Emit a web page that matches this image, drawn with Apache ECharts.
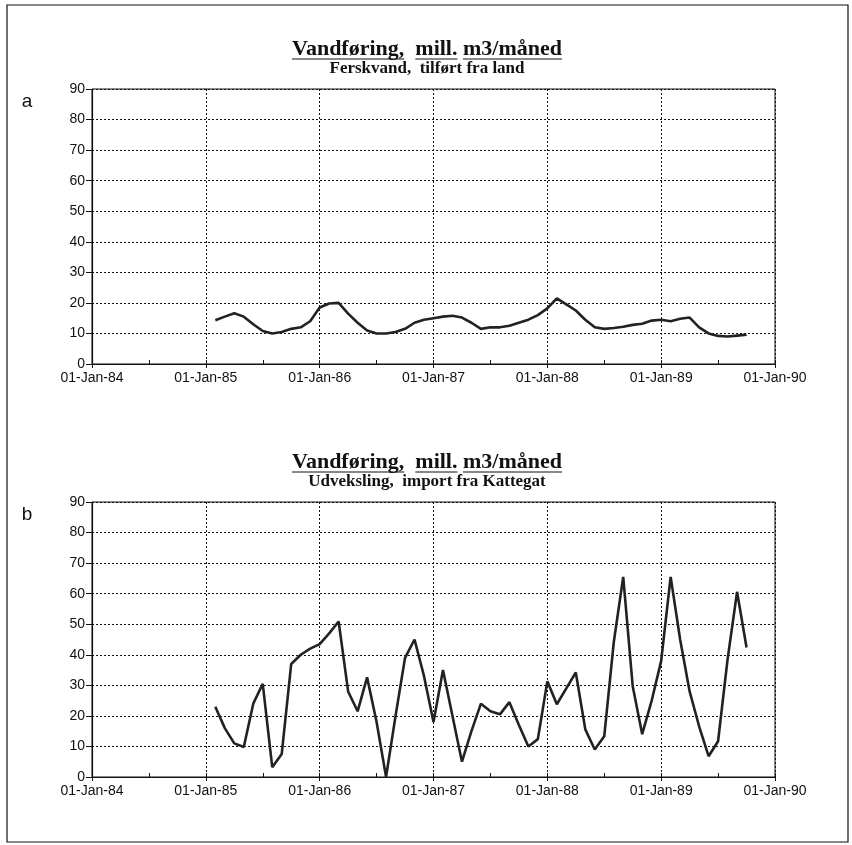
<!DOCTYPE html>
<html>
<head>
<meta charset="utf-8">
<script src="https://cdn.jsdelivr.net/npm/echarts@6/dist/echarts.min.js"></script>
<style>
  html, body { margin: 0; padding: 0; background: #ffffff; }
  #chart { width: 852px; height: 845px; }
</style>
</head>
<body>
<div id="chart"></div>
<script>
// tick labels of the time axis, one per year (months counted from 01-Jan-84)
var tickLabels = ['01-Jan-84', '01-Jan-85', '01-Jan-86', '01-Jan-87', '01-Jan-88', '01-Jan-89', '01-Jan-90'];
var yTicks = [0, 10, 20, 30, 40, 50, 60, 70, 80, 90];

// first observation is Feb-85, then one value per month up to Oct-89
var firstMonth = 13;

// a: Ferskvand, tilført fra land (mill. m3/måned)
var ferskvand = [
  14.3, 15.5, 16.6, 15.5, 13.0, 10.8, 10.0, 10.5, 11.5, 12.0, 14.0,
  18.5, 19.8, 20.0, 16.5, 13.5, 11.0, 10.0, 10.0, 10.5, 11.5, 13.5, 14.5,
  15.0, 15.5, 15.8, 15.2, 13.5, 11.5, 12.0, 12.0, 12.5, 13.5, 14.5, 16.0,
  18.2, 21.5, 19.5, 17.5, 14.5, 12.0, 11.5, 11.8, 12.2, 12.8, 13.2, 14.2,
  14.5, 14.0, 14.8, 15.2, 12.0, 10.0, 9.2, 9.0, 9.3, 9.6
];

// b: Udveksling, import fra Kattegat (mill. m3/måned)
var udveksling = [
  23.0, 16.0, 11.0, 9.8, 24.0, 30.5, 3.2, 7.5, 37.0, 40.0, 42.0,
  43.5, 47.0, 50.9, 28.0, 21.5, 32.6, 18.0, 0.0, 20.0, 39.0, 45.0, 33.0,
  18.0, 35.0, 20.0, 5.0, 15.0, 24.0, 21.5, 20.5, 24.5, 17.0, 10.0, 12.4,
  31.3, 23.8, 29.0, 34.2, 15.6, 9.0, 13.3, 44.0, 65.5, 29.7, 14.0, 25.0,
  38.0, 65.5, 45.0, 28.0, 16.6, 6.8, 11.7, 38.5, 60.6, 42.4
];

var chartTitle = 'Vandføring,  mill. m3/måned';
var subTitles = ['Ferskvand,  tilført fra land', 'Udveksling,  import fra Kattegat'];
var panelNames = ['a', 'b'];

function toPairs(values) {
  var out = [];
  for (var i = 0; i < values.length; i++) {
    out.push([firstMonth + i, values[i]]);
  }
  return out;
}

var myChart = echarts.init(document.getElementById('chart'));

var labelFont = 'Liberation Sans';
var titleFont = 'Liberation Serif';
var gridTops = [89, 502];
var gridH = 275;
var gridLeft = 92;
var gridRight = 77;
var titleX = 427;
var titleSize = 22;

// width of title pieces, used for the underlines
var ctx = document.createElement('canvas').getContext('2d');
ctx.font = 'bold ' + titleSize + 'px "' + titleFont + '"';

function underlines(top) {
  var full = ctx.measureText(chartTitle).width;
  var x0 = titleX - full / 2;
  var words = ['Vandføring,', 'mill.', 'm3/måned'];
  var res = [];
  var pos = 0;
  words.forEach(function (w) {
    var idx = chartTitle.indexOf(w, pos);
    var start = ctx.measureText(chartTitle.slice(0, idx)).width;
    var wide = ctx.measureText(w).width;
    pos = idx + w.length;
    res.push({
      type: 'line',
      shape: { x1: x0 + start, y1: top, x2: x0 + start + wide, y2: top },
      style: { stroke: '#111', lineWidth: 1 }
    });
  });
  return res;
}

var grids = [], xAxes = [], yAxes = [], series = [], graphics = [];

[ferskvand, udveksling].forEach(function (values, k) {
  grids.push({
    left: gridLeft, right: gridRight, top: gridTops[k], height: gridH,
    show: true, borderColor: '#111', borderWidth: 1
  });
  xAxes.push({
    gridIndex: k, type: 'value', min: 0, max: 72, interval: 12,
    position: 'bottom',
    axisLine: { show: true, lineStyle: { color: '#111', width: 1.2 } },
    axisTick: { show: true, inside: false, length: 4, lineStyle: { color: '#111' } },
    axisLabel: {
      color: '#111', fontFamily: labelFont, fontSize: 14, margin: 7,
      formatter: function (v) { return tickLabels[Math.round(v / 12)]; }
    },
    splitLine: { show: true, lineStyle: { color: '#111', type: [2, 2], width: 1 } }
  });
  // half-year marks drawn inside the plot
  xAxes.push({
    gridIndex: k, type: 'value', min: 0, max: 72, interval: 6,
    position: 'bottom', offset: 0,
    axisLine: { show: false },
    axisTick: { show: true, inside: true, length: 4, lineStyle: { color: '#111' } },
    axisLabel: { show: false },
    splitLine: { show: false }
  });
  yAxes.push({
    gridIndex: k, type: 'value', min: 0, max: 90, interval: 10,
    axisLine: { show: true, lineStyle: { color: '#111', width: 1.2 } },
    axisTick: { show: true, inside: false, length: 6, lineStyle: { color: '#111' } },
    axisLabel: {
      color: '#111', fontFamily: labelFont, fontSize: 14, margin: 7,
      formatter: function (v) { return yTicks.indexOf(v) >= 0 ? String(v) : ''; }
    },
    splitLine: { show: true, lineStyle: { color: '#111', type: [2, 2], width: 1 } }
  });
  series.push({
    type: 'line',
    xAxisIndex: k * 2,
    yAxisIndex: k,
    data: toPairs(values),
    showSymbol: false,
    smooth: false,
    lineStyle: { color: '#222', width: 2.6 },
    animation: false
  });

  var t = gridTops[k];
  graphics.push({
    type: 'text', x: 27, y: t + 13,
    style: {
      text: panelNames[k], fill: '#111', textAlign: 'center', textVerticalAlign: 'middle',
      font: '19px "' + labelFont + '"'
    }
  });
  graphics.push({
    type: 'text', x: titleX, y: t - 40,
    style: {
      text: chartTitle, fill: '#111', textAlign: 'center', textVerticalAlign: 'middle',
      font: 'bold ' + titleSize + 'px "' + titleFont + '"'
    }
  });
  graphics.push({
    type: 'text', x: titleX, y: t - 20,
    style: {
      text: subTitles[k], fill: '#111', textAlign: 'center', textVerticalAlign: 'middle',
      font: 'bold 17px "' + titleFont + '"'
    }
  });
  graphics = graphics.concat(underlines(t - 30));
});

// outer frame of the figure
graphics.push({
  type: 'rect', shape: { x: 7, y: 5, width: 841, height: 837 },
  style: { fill: 'none', stroke: '#111', lineWidth: 1.2 }
});

var option = {
  backgroundColor: '#ffffff',
  animation: false,
  grid: grids,
  xAxis: xAxes,
  yAxis: yAxes,
  series: series,
  graphic: graphics
};

myChart.setOption(option);

window.addEventListener('resize', function () {
  myChart.resize();
});
</script>
</body>
</html>
